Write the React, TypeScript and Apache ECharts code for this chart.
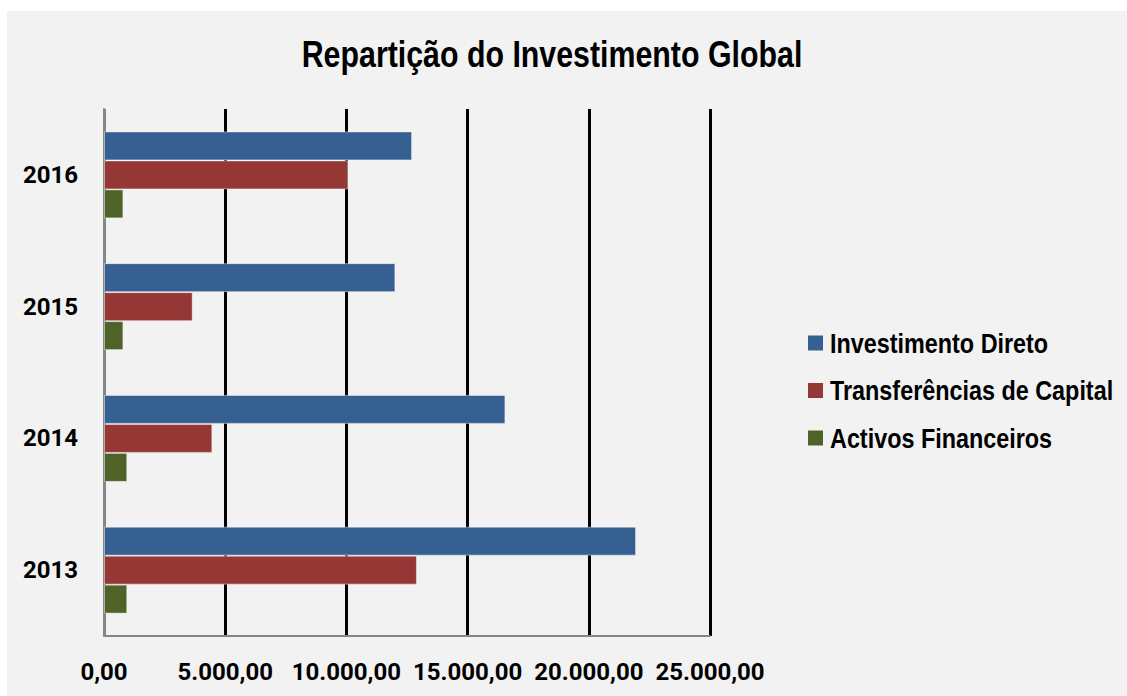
import React, { useEffect, useRef } from "react";
import * as echarts from "echarts";

const categories = ["2013", "2014", "2015", "2016"];
const seriesNames = ["Investimento Direto", "Transferências de Capital", "Activos Financeiros"];
const investimentoDireto = [21950, 16560, 12020, 12710];
const transferenciasCapital = [12910, 4470, 3660, 10070];
const activosFinanceiros = [960, 960, 800, 800];
const seriesColors = ["#376092", "#953735", "#4f6228"];
const xTicks = [0, 5000, 10000, 15000, 20000, 25000];
const titleText = "Repartição do Investimento Global";

const WIDE = "'Liberation Sans', Arial, sans-serif";
const NUM = "Roboto, 'Liberation Sans', sans-serif";

function fmt(v: number): string {
  const s = Math.round(v).toString();
  let out = "";
  for (let i = 0; i < s.length; i++) {
    const fromEnd = s.length - i;
    out += s[i];
    if (fromEnd > 1 && (fromEnd - 1) % 3 === 0) out += ".";
  }
  return out + ",00";
}

export default function App() {
  const ref = useRef<HTMLDivElement>(null);
  useEffect(() => {
    if (!ref.current) return;
    const chart = echarts.init(ref.current, null, { renderer: "svg" });
    const border = "rgba(255,255,255,0.45)";
    const values = [investimentoDireto, transferenciasCapital, activosFinanceiros];

    const legendElems: any[] = [];
    seriesNames.forEach((name, i) => {
      const cy = 332 + i * 47.5;
      legendElems.push({
        type: "rect",
        shape: { x: 801, y: cy - 7.5, width: 15, height: 15 },
        style: { fill: seriesColors[i] },
      });
      legendElems.push({
        type: "text",
        x: 823,
        y: cy,
        scaleX: 0.835,
        style: {
          text: name,
          fontFamily: WIDE,
          fontWeight: "bold",
          fontSize: 28,
          fill: "#000",
          align: "left",
          verticalAlign: "middle",
        },
      });
    });

    chart.setOption({
      animation: false,
      backgroundColor: "#f2f2f2",
      graphic: [
        {
          type: "text",
          x: 545,
          y: 42.5,
          scaleX: 0.82,
          style: {
            text: titleText,
            fontFamily: WIDE,
            fontWeight: "bold",
            fontSize: 37,
            fill: "#000",
            align: "center",
            verticalAlign: "middle",
          },
        },
        ...legendElems,
      ],
      grid: { left: 97, top: 98, width: 606, height: 527, containLabel: false },
      xAxis: {
        type: "value",
        min: xTicks[0],
        max: xTicks[xTicks.length - 1],
        interval: xTicks[1] - xTicks[0],
        axisLine: { show: true, lineStyle: { color: "#868686", width: 2 } },
        axisTick: { show: false },
        splitLine: {
          show: true,
          lineStyle: { color: ["#868686", "#000000", "#000000", "#000000", "#000000", "#000000"], width: 3 },
        },
        axisLabel: {
          margin: 24,
          fontFamily: NUM,
          fontWeight: "bold",
          fontSize: 24,
          color: "#000",
          formatter: (v: number) => fmt(v),
        },
      },
      yAxis: {
        type: "category",
        data: categories,
        axisLine: { show: true, lineStyle: { color: "#868686", width: 2 } },
        axisTick: { show: false },
        axisLabel: { margin: 26, fontFamily: NUM, fontWeight: "bold", fontSize: 24, color: "#000" },
      },
      series: seriesNames.map((name, i) => ({
        name,
        type: "bar",
        data: values[i],
        barWidth: 29,
        barGap: "0%",
        itemStyle: { color: seriesColors[i], borderColor: border, borderWidth: 1 },
      })),
    });
    return () => chart.dispose();
  }, []);
  return (
    <div style={{ position: "absolute", left: 0, top: 0, width: 1127, height: 696, background: "#fff" }}>
      <div ref={ref} style={{ position: "absolute", left: 7, top: 11, width: 1120, height: 685 }} />
    </div>
  );
}
